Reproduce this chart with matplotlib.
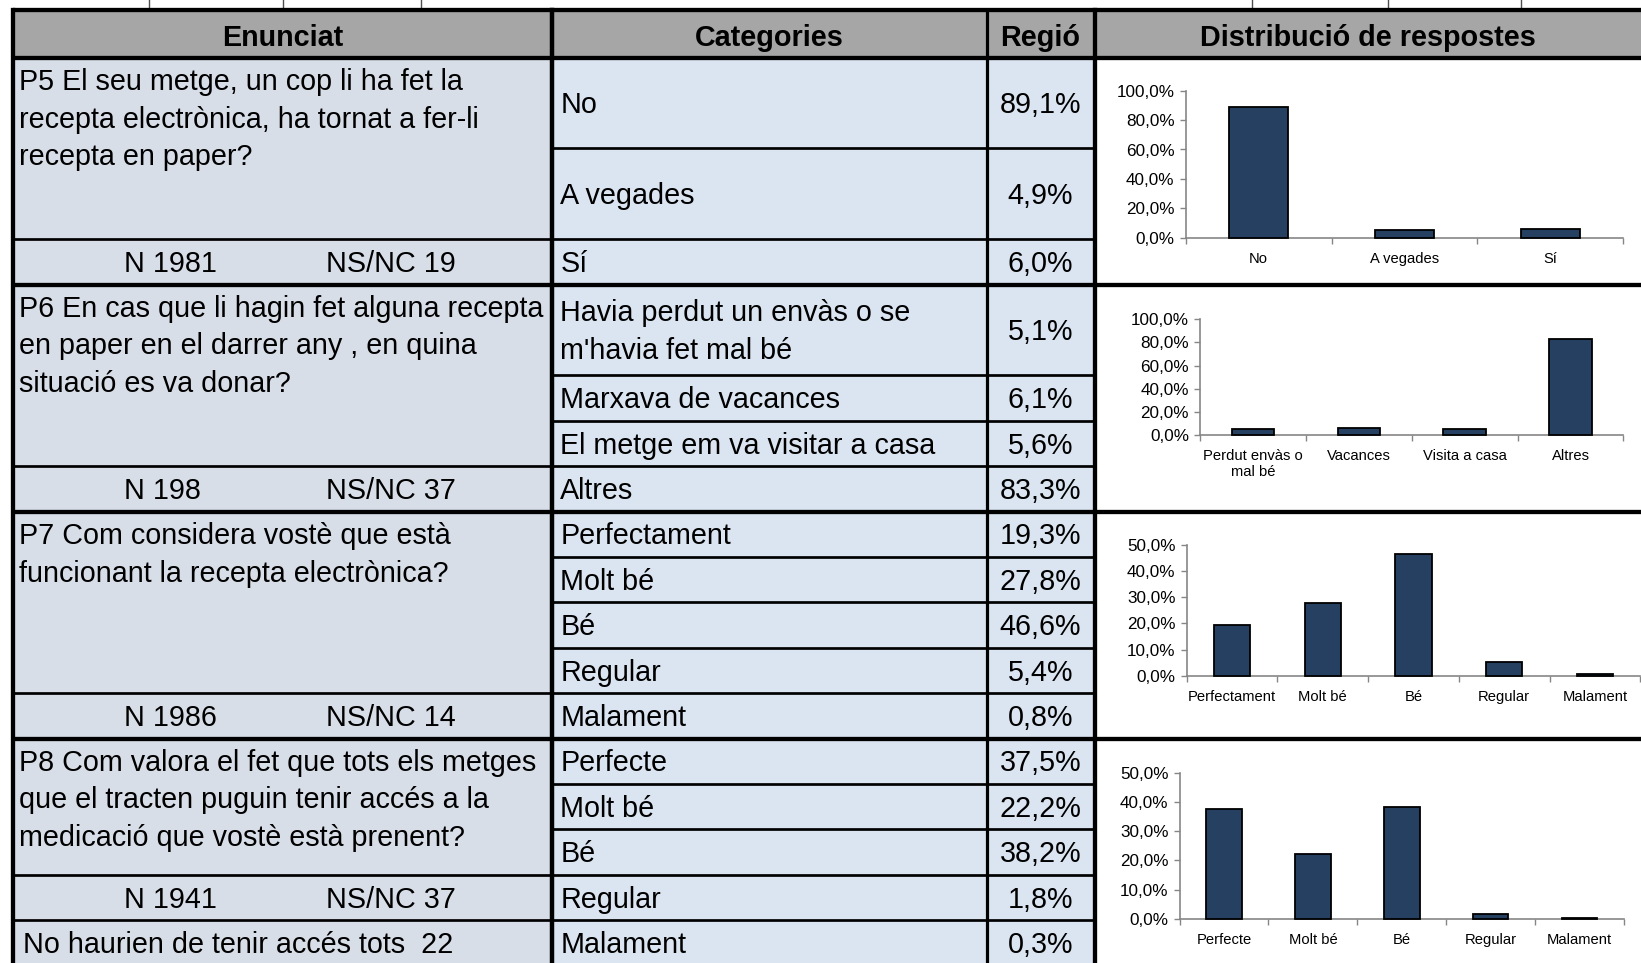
import numpy as np
import matplotlib
matplotlib.use('Agg')
import matplotlib.pyplot as plt
from matplotlib.patches import Rectangle

plt.rcParams['font.family'] = ['Liberation Sans', 'DejaVu Sans']

# ---- data ----
headers = ['Enunciat', 'Categories', 'Regió', 'Distribució de respostes']

p5_question = ['P5 El seu metge, un cop li ha fet la',
               'recepta electrònica, ha tornat a fer-li',
               'recepta en paper?']
p5_n, p5_nsnc = 1981, 19
p5_categories = ['No', 'A vegades', 'Sí']
p5_values = [89.1, 4.9, 6.0]
p5_bar_labels = ['No', 'A vegades', 'Sí']

p6_question = ['P6 En cas que li hagin fet alguna recepta',
               'en paper en el darrer any , en quina',
               'situació es va donar?']
p6_n, p6_nsnc = 198, 37
p6_categories = ["Havia perdut un envàs o se\nm'havia fet mal bé",
                 'Marxava de vacances', 'El metge em va visitar a casa', 'Altres']
p6_values = [5.1, 6.1, 5.6, 83.3]
p6_bar_labels = ['Perdut envàs o\nmal bé', 'Vacances', 'Visita a casa', 'Altres']

p7_question = ['P7 Com considera vostè que està',
               'funcionant la recepta electrònica?']
p7_n, p7_nsnc = 1986, 14
p7_categories = ['Perfectament', 'Molt bé', 'Bé', 'Regular', 'Malament']
p7_values = [19.3, 27.8, 46.6, 5.4, 0.8]
p7_bar_labels = ['Perfectament', 'Molt bé', 'Bé', 'Regular', 'Malament']

p8_question = ['P8 Com valora el fet que tots els metges',
               'que el tracten puguin tenir accés a la',
               'medicació que vostè està prenent?']
p8_n, p8_nsnc = 1941, 37
p8_categories = ['Perfecte', 'Molt bé', 'Bé', 'Regular', 'Malament']
p8_values = [37.5, 22.2, 38.2, 1.8, 0.3]
p8_bar_labels = ['Perfecte', 'Molt bé', 'Bé', 'Regular', 'Malament']
p8_note = 'No haurien de tenir accés tots  22'

# ---- layout (pixels) ----
W, H = 1641, 963
X0, X1, X2, X3, X4 = 12.6, 552.3, 986.5, 1094.5, 1641
HEAD_TOP, HEAD_BOT = 10.5, 57.6
ROW = 45.4
LINE = 37.7
DY = 2.2   # text sits a bit lower than matplotlib's bbox centre
FS = 20.7
THIN, THICK = 1.95, 3.1
ENUN_C = '#D8DEE8'
CAT_C = '#DBE5F1'
HEAD_C = '#A6A6A6'
BAR_C = '#264061'
AXIS_C = '#868686'

sections = [
    dict(q=p5_question, n=p5_n, nsnc=p5_nsnc, cats=p5_categories, vals=p5_values,
         labels=p5_bar_labels, units=[2, 2, 1], qrows=2, note=None,
         chart=(1185.6, 1623.4, 90.7, 237.7, 100, 20)),
    dict(q=p6_question, n=p6_n, nsnc=p6_nsnc, cats=p6_categories, vals=p6_values,
         labels=p6_bar_labels, units=[2, 1, 1, 1], qrows=3, note=None,
         chart=(1200.0, 1623.4, 319.3, 435.0, 100, 20)),
    dict(q=p7_question, n=p7_n, nsnc=p7_nsnc, cats=p7_categories, vals=p7_values,
         labels=p7_bar_labels, units=[1, 1, 1, 1, 1], qrows=4, note=None,
         chart=(1186.6, 1640.3, 545.0, 675.7, 50, 10)),
    dict(q=p8_question, n=p8_n, nsnc=p8_nsnc, cats=p8_categories, vals=p8_values,
         labels=p8_bar_labels, units=[1, 1, 1, 1, 1], qrows=3, note=p8_note,
         chart=(1179.6, 1624.0, 772.7, 919.0, 50, 10)),
]


def pct(v):
    return ('%.1f%%' % v).replace('.', ',')


fig = plt.figure(figsize=(W / 100, H / 100), dpi=100)
bg = fig.add_axes([0, 0, 1, 1])
bg.set_xlim(0, W)
bg.set_ylim(H, 0)
bg.axis('off')


def hline(y, xa, xb, lw):
    bg.plot([xa, xb], [y, y], color='black', lw=lw, solid_capstyle='butt', zorder=5)


# header
bg.add_patch(Rectangle((X0, HEAD_TOP), X4 - X0, HEAD_BOT - HEAD_TOP, fc=HEAD_C, ec='none'))
for txt, xa, xb in zip(headers, [X0, X1, X2, X3], [X1, X2, X3, X4]):
    bg.text((xa + xb) / 2, (HEAD_TOP + HEAD_BOT) / 2 + 3.5, txt, ha='center', va='center',
            fontsize=FS, fontweight='bold')
hline(HEAD_TOP, X0, X4, THICK)
hline(HEAD_BOT, X0, X4, THICK)
for xm in [148.6, 282.6, 420.7, 1251.7, 1387.8, 1520.7]:
    bg.plot([xm, xm], [0, HEAD_TOP], color='#505050', lw=1.0)

top = HEAD_BOT
for s in sections:
    row_y = []
    y = top
    for u in s['units']:
        row_y.append(y)
        y += u * ROW
    bottom = y
    bg.add_patch(Rectangle((X0, top), X1 - X0, bottom - top, fc=ENUN_C, ec='none'))
    bg.add_patch(Rectangle((X1, top), X3 - X1, bottom - top, fc=CAT_C, ec='none'))
    bg.add_patch(Rectangle((X3, top), X4 - X3, bottom - top, fc='white', ec='none'))

    for i, (cat, val, u) in enumerate(zip(s['cats'], s['vals'], s['units'])):
        yc = row_y[i] + u * ROW / 2 + DY
        bg.text(X1 + 8, yc, cat, ha='left', va='center', fontsize=FS, linespacing=1.47)
        bg.text((X2 + X3) / 2, yc, pct(val), ha='center', va='center', fontsize=FS)
        if i > 0:
            hline(row_y[i], X1, X3, THIN)

    for k, line in enumerate(s['q']):
        bg.text(X0 + 6, top + 22 + DY + k * LINE, line, ha='left', va='center', fontsize=FS)
    qb = row_y[s['qrows']]
    hline(qb, X0, X1, THIN)
    bg.text(123.5, qb + ROW / 2 + DY, 'N %d' % s['n'], ha='left', va='center', fontsize=FS)
    bg.text(325.5, qb + ROW / 2 + DY, 'NS/NC %d' % s['nsnc'], ha='left', va='center', fontsize=FS)
    if s['note']:
        hline(qb + ROW, X0, X1, THIN)
        bg.text(X0 + 10, qb + 1.5 * ROW + DY, s['note'], ha='left', va='center', fontsize=FS)
    hline(bottom, X0, X4, THICK)

    # bar chart
    ax_x, ax_end, y_top, y_zero, ymax, ystep = s['chart']
    ax = fig.add_axes([ax_x / W, 1 - y_zero / H, (ax_end - ax_x) / W, (y_zero - y_top) / H])
    ax.set_facecolor('none')
    n = len(s['vals'])
    ax.bar(np.arange(n), s['vals'], width=0.4, color=BAR_C, edgecolor='black',
           linewidth=1.3, zorder=3, clip_on=False)
    ax.set_xlim(-0.5, n - 0.5)
    ax.set_ylim(0, ymax)
    yt = np.arange(0, ymax + 0.1, ystep)
    ax.set_yticks(yt)
    ax.set_yticklabels([pct(v) for v in yt], fontsize=12.3)
    ax.set_xticks(np.arange(n + 1) - 0.5)
    ax.set_xticklabels([])
    ax.set_xticks(np.arange(n), minor=True)
    ax.set_xticklabels(s['labels'], minor=True, fontsize=10.6)
    ax.tick_params(axis='x', which='major', length=4, width=1, color=AXIS_C, direction='out')
    ax.tick_params(axis='x', which='minor', length=0, pad=10)
    ax.tick_params(axis='y', length=4, width=1, color=AXIS_C, pad=4)
    for side in ['top', 'right']:
        ax.spines[side].set_visible(False)
    for side in ['left', 'bottom']:
        ax.spines[side].set_color(AXIS_C)
        ax.spines[side].set_linewidth(1.2)

    top = bottom

# vertical grid lines
bg.plot([X0, X0], [HEAD_TOP, H], color='black', lw=THICK, zorder=6)
bg.plot([X1, X1], [HEAD_TOP, H], color='black', lw=3.2, zorder=6)
bg.plot([X2, X2], [HEAD_TOP, H], color='black', lw=2.3, zorder=6)
bg.plot([X3, X3], [HEAD_TOP, H], color='black', lw=THICK, zorder=6)

fig.savefig('out.png', dpi=100)
